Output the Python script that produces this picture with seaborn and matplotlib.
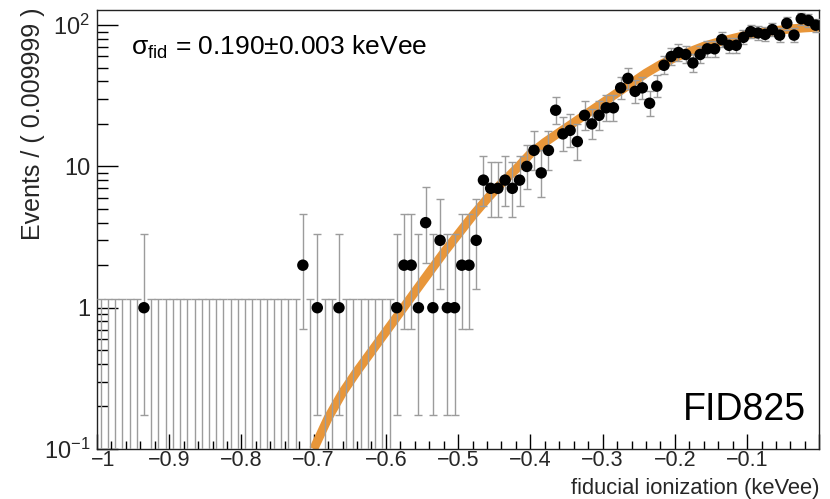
import math
import numpy as np
import pandas as pd
import matplotlib
matplotlib.use("Agg")
import matplotlib.pyplot as plt
import matplotlib.transforms as mtransforms
import seaborn as sns
from matplotlib.ticker import FixedLocator, FuncFormatter, MultipleLocator, LogLocator, NullFormatter

# ---------------- data ----------------
x_start = -1.0
bin_width = 0.01
counts = [0, 0, 0, 0, 0, 0, 1, 0, 0, 0,
          0, 0, 0, 0, 0, 0, 0, 0, 0, 0,
          0, 0, 0, 0, 0, 0, 0, 0, 2, 0,
          1, 0, 0, 1, 0, 0, 0, 0, 0, 0,
          0, 1, 2, 2, 1, 4, 1, 3, 1, 1,
          2, 2, 3, 8, 7, 7, 8, 7, 8, 10,
          13, 9, 13, 25, 17, 18, 15, 23, 20, 23,
          26, 26, 36, 42, 34, 36, 28, 37, 52, 60,
          64, 62, 54, 62, 68, 68, 79, 72, 72, 82,
          90, 88, 86, 93, 85, 103, 85, 111, 108, 100]

fit_x = [-0.70, -0.68, -0.66, -0.64, -0.62, -0.60, -0.58, -0.56, -0.54, -0.52,
         -0.50, -0.48, -0.46, -0.44, -0.42, -0.40, -0.38, -0.36, -0.34, -0.32,
         -0.30, -0.28, -0.26, -0.24, -0.22, -0.20, -0.18, -0.16, -0.14, -0.12,
         -0.10, -0.08, -0.06, -0.04, -0.02, 0.00]
fit_y = [0.100, 0.166, 0.251, 0.355, 0.490, 0.676, 0.933, 1.29, 1.78, 2.45,
         3.31, 4.47, 5.89, 7.59, 9.55, 12.3, 14.8, 17.4, 20.4, 24.0,
         28.2, 33.1, 38.9, 45.7, 52.5, 58.9, 64.6, 70.8, 75.9, 80.4,
         85.1, 88.7, 91.6, 94.0, 95.7, 97.0]

x_ticks = [-1.0, -0.9, -0.8, -0.7, -0.6, -0.5, -0.4, -0.3, -0.2, -0.1, 0.0]
y_ticks = [0.1, 1, 10, 100]
y_tick_labels = [r"$10^{-1}$", "1", "10", r"$10^{2}$"]

sigma_text = r"$\sigma_{fid}$ = 0.190$\pm$0.003 keVee"
tag_text = "FID825"
x_title = "fiducial ionization (keVee)"
y_title = "Events / ( 0.009999 )"

# ---------------- Poisson (Garwood) intervals ----------------
def pois_cdf(n, mu):
    if n < 0:
        return 0.0
    s = 0.0
    for k in range(n + 1):
        s += math.exp(-mu + k * math.log(mu) - math.lgamma(k + 1)) if mu > 0 else (1.0 if k == 0 else 0.0)
    return s

def solve(f, target, lo, hi):
    for _ in range(100):
        mid = 0.5 * (lo + hi)
        if f(mid) > target:
            lo = mid
        else:
            hi = mid
    return 0.5 * (lo + hi)

alpha = 0.158655
centers, lows, highs, yc = [], [], [], []
for i, n in enumerate(counts):
    xc = x_start + bin_width * (i + 0.5)
    centers.append(xc)
    if n == 0:
        up = -math.log(1 - 0.682689)
        lows.append(1e-3)
        highs.append(up)
        yc.append(up)
    else:
        up = solve(lambda m: pois_cdf(n, m), alpha, 0, n + 10 * math.sqrt(n) + 10)
        lo = solve(lambda m: pois_cdf(n - 1, m), 1 - alpha, 0, n + 10 * math.sqrt(n) + 10)
        lows.append(lo)
        highs.append(up)
        yc.append(n)

centers = np.array(centers)
yc = np.array(yc)
lows = np.array(lows)
highs = np.array(highs)
cnt = np.array(counts)

df_pts = pd.DataFrame({"x": centers[cnt > 0], "y": cnt[cnt > 0]})
df_fit = pd.DataFrame({"x": fit_x, "y": fit_y})

# ---------------- style ----------------
sns.set_style("white")
plt.rcParams["font.family"] = ["Liberation Sans", "DejaVu Sans"]
plt.rcParams["mathtext.fontset"] = "custom"
plt.rcParams["mathtext.rm"] = "Liberation Sans"
plt.rcParams["mathtext.it"] = "Liberation Sans:italic"
plt.rcParams["mathtext.sf"] = "Liberation Sans"
plt.rcParams["mathtext.default"] = "regular"

W, H = 830, 499
fig = plt.figure(figsize=(W / 100, H / 100), dpi=100)
ax_l, ax_r, ax_t, ax_b = 97, 819.3, 10, 449
ax = fig.add_axes([ax_l / W, 1 - ax_b / H, (ax_r - ax_l) / W, (ax_b - ax_t) / H])

ax.set_yscale("log")

# fit curve
sns.lineplot(data=df_fit, x="x", y="y", ax=ax, color="#E8963A", linewidth=6.5,
             solid_capstyle="butt", zorder=2, legend=False)

# error bars
ax.errorbar(centers, yc, yerr=[yc - lows, highs - yc], fmt="none",
            ecolor="#9c9c9c", elinewidth=1.0, capsize=2.6, capthick=1.0, zorder=3)

# data points
sns.scatterplot(data=df_pts, x="x", y="y", ax=ax, color="black", s=68,
                edgecolor="none", linewidth=0, zorder=4, legend=False)

ax.set_xlim(-1.0, 0.0)
ax.set_ylim(0.1, 128)

ax.xaxis.set_major_locator(FixedLocator(x_ticks))
ax.xaxis.set_minor_locator(MultipleLocator(0.02))

def xfmt(v, pos):
    if abs(v) < 1e-9:
        return ""
    s = f"{v:.1f}"
    if s == "-1.0":
        s = "-1"
    return s.replace("-", "\u2212")

ax.xaxis.set_major_formatter(FuncFormatter(xfmt))
ax.yaxis.set_major_locator(FixedLocator(y_ticks))
ax.set_yticklabels(y_tick_labels)
ax.yaxis.set_minor_locator(LogLocator(base=10, subs=[2, 3, 4, 5, 6, 7, 8, 9], numticks=20))
ax.yaxis.set_minor_formatter(NullFormatter())

ax.tick_params(axis="x", which="major", direction="in", length=11, width=1.0,
               labelsize=15.5, pad=1, bottom=True, top=False, color="black")
ax.tick_params(axis="x", which="minor", direction="in", length=5.5, width=1.0,
               bottom=True, top=False, color="black")
ax.tick_params(axis="y", which="major", direction="in", length=15, width=1.0,
               labelsize=17, pad=5, left=True, right=False, color="black")
ax.tick_params(axis="y", which="minor", direction="in", length=8, width=1.0,
               left=True, right=False, color="black")

# nudge the "-1" x tick label right so it does not collide with the 10^-1 label
first_tick = ax.xaxis.get_major_ticks()[0]
first_tick.label1.set_transform(first_tick.label1.get_transform() +
                                mtransforms.ScaledTranslation(6 / 100, 0, fig.dpi_scale_trans))

for sp in ax.spines.values():
    sp.set_color("#222222")
    sp.set_linewidth(1.0)

ax.set_xlabel(x_title, loc="right", fontsize=15.8)
ax.xaxis.label.set_va("baseline")
ax.xaxis.set_label_coords(1.0, (ax_b - 494.3) / (ax_b - ax_t))
ax.set_ylabel(y_title, loc="top", fontsize=18)
ax.yaxis.set_label_coords(-0.072, 1.005)

ax.text(131 / W, 1 - 55 / H, sigma_text, transform=fig.transFigure, fontsize=19,
        ha="left", va="baseline", color="black")
ax.text(806 / W, 1 - 420 / H, tag_text, transform=fig.transFigure, fontsize=27,
        ha="right", va="baseline", color="black")

fig.savefig("out.png", dpi=100)
